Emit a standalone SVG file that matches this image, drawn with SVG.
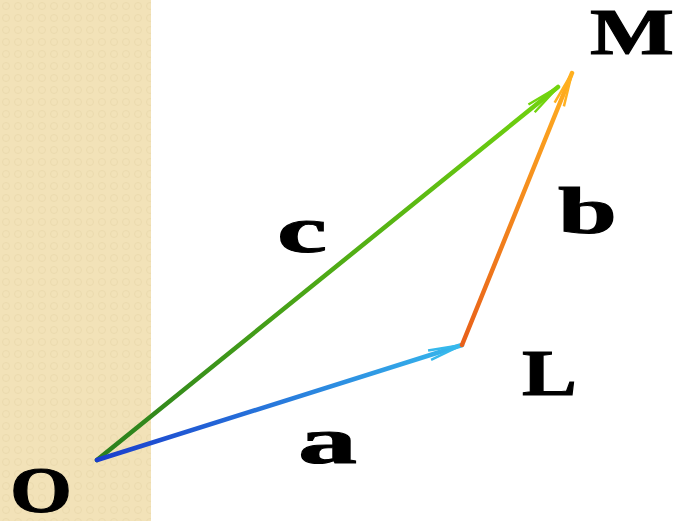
<svg xmlns="http://www.w3.org/2000/svg" width="679" height="521" viewBox="0 0 679 521">
<style>
.lbl{font-family:"Liberation Serif","DejaVu Serif",serif;font-weight:bold;font-size:66px;fill:#000;stroke:#000;stroke-width:1}
.vec{fill:none;stroke-width:4.5;stroke-linecap:round}
.head{fill:none;stroke-width:2.5}
</style>
<defs>
<pattern id="tex" width="12" height="12" patternUnits="userSpaceOnUse">
<rect width="12" height="12" fill="#F2E2B8"/>
<circle cx="6" cy="6" r="3.5" fill="none" stroke="#EBDAAE" stroke-width="1"/>
</pattern>
<linearGradient id="gA" gradientUnits="userSpaceOnUse" x1="97" y1="460" x2="462" y2="345">
<stop offset="0" stop-color="#1A3CCC"/><stop offset="1" stop-color="#36B8EC"/>
</linearGradient>
<linearGradient id="gC" gradientUnits="userSpaceOnUse" x1="97" y1="460" x2="558" y2="87">
<stop offset="0" stop-color="#2A7F1E"/><stop offset="1" stop-color="#72D40E"/>
</linearGradient>
<linearGradient id="gB" gradientUnits="userSpaceOnUse" x1="462" y1="345" x2="572" y2="73">
<stop offset="0" stop-color="#E8601A"/><stop offset="1" stop-color="#FFB020"/>
</linearGradient>
<marker id="hA" markerUnits="userSpaceOnUse" markerWidth="40" markerHeight="24" refX="0" refY="0" viewBox="-36 -12 40 24" orient="auto" overflow="visible">
<path class="head" d="M-34,-5 L0,0 L-34,5" stroke="#36B8EC"/>
</marker>
<marker id="hC" markerUnits="userSpaceOnUse" markerWidth="40" markerHeight="24" refX="0" refY="0" viewBox="-36 -12 40 24" orient="auto" overflow="visible">
<path class="head" d="M-34,-5 L0,0 L-34,5" stroke="#72D40E"/>
</marker>
<marker id="hB" markerUnits="userSpaceOnUse" markerWidth="40" markerHeight="24" refX="0" refY="0" viewBox="-36 -12 40 24" orient="auto" overflow="visible">
<path class="head" d="M-34,-5 L0,0 L-34,5" stroke="#FFB020"/>
</marker>
</defs>
<rect x="0" y="0" width="679" height="521" fill="#FFFFFF"/>
<rect x="0" y="0" width="151" height="521" fill="url(#tex)"/>
<g id="connectors">
<path id="vec-c" class="vec" d="M97,460 L558,87" stroke="url(#gC)" marker-end="url(#hC)"/>
<path id="vec-a" class="vec" d="M97,460 L462,345" stroke="url(#gA)" marker-end="url(#hA)"/>
<path id="vec-b" class="vec" d="M462,345 L572,73" stroke="url(#gB)" marker-end="url(#hB)"/>
</g>
<g id="node-O"><text class="lbl" x="10" y="512" textLength="62" lengthAdjust="spacingAndGlyphs">O</text></g>
<g id="node-L"><text class="lbl" x="522" y="395" textLength="55" lengthAdjust="spacingAndGlyphs">L</text></g>
<g id="node-M"><text class="lbl" x="590" y="54" textLength="84" lengthAdjust="spacingAndGlyphs">M</text></g>
<g id="label-a"><text class="lbl" x="298" y="463" textLength="59" lengthAdjust="spacingAndGlyphs">a</text></g>
<g id="label-b"><text class="lbl" x="558" y="233" textLength="59" lengthAdjust="spacingAndGlyphs">b</text></g>
<g id="label-c"><text class="lbl" x="277" y="252" textLength="50" lengthAdjust="spacingAndGlyphs">c</text></g>
</svg>
